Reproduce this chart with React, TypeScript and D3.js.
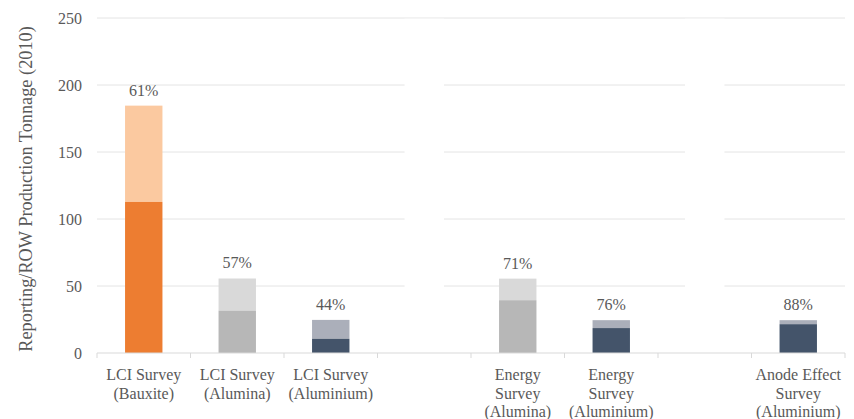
import React from 'react';
import * as d3 from 'd3';

// categories: blank slots are separators between survey groups
const categories = ['c1', 'c2', 'c3', 'gap1', 'c4', 'c5', 'gap2', 'c6'];
const catLabels = [
  ['LCI Survey', '(Bauxite)'],
  ['LCI Survey', '(Alumina)'],
  ['LCI Survey', '(Aluminium)'],
  [],
  ['Energy', 'Survey', '(Alumina)'],
  ['Energy', 'Survey', '(Aluminium)'],
  [],
  ['Anode Effect', 'Survey', '(Aluminium)'],
];
const totalRow = [184.6, 55.6, 24.7, 0, 55.5, 24.5, 0, 24.5];
const reporting = [112.7, 31.6, 10.6, 0, 39.4, 18.6, 0, 21.5];
const pctLabels = ['61%', '57%', '44%', '', '71%', '76%', '', '88%'];
const yTicks = [0, 50, 100, 150, 200, 250];

const darkCol = ['#ED7D31', '#B7B7B7', '#44546A', '', '#B7B7B7', '#44546A', '', '#44546A'];
const lightCol = ['#FBC9A0', '#D9D9D9', '#ABAFBA', '', '#D9D9D9', '#ABAFBA', '', '#ABAFBA'];

const font = "'Liberation Serif', 'Times New Roman', Times, serif";
const txt = '#595959';
const T = { fontFamily: font, fontSize: '16px', fill: txt };

export default function App() {
  const width = 854, height = 419;
  const margin = { top: 18, right: 9, bottom: 66, left: 97 };
  const x = d3.scaleBand().domain(categories)
    .range([margin.left, width - margin.right])
    .paddingInner(0.6).paddingOuter(0.3);
  const y = d3.scaleLinear().domain([0, 250]).range([height - margin.bottom, margin.top]);
  const step = x.step();

  return (
    <svg width={width} height={height} style={{ position: 'absolute', left: 0, top: 0, fontFamily: font }}>
      {yTicks.map(t => (
        <g key={t}>
          {t > 0 && <line x1={margin.left} x2={width - margin.right} y1={y(t)} y2={y(t)} stroke="#e4e4e4" strokeWidth={1} />}
          <text x={82} y={y(t)} dy="0.35em" textAnchor="end" style={T}>{t}</text>
        </g>
      ))}
      {/* white bars in the blank slots hide the gridlines */}
      {categories.map(c => c.startsWith('gap') ? (
        <rect key={c} x={x(c)! - 1} y={y(249.5)} width={x.bandwidth() + 2} height={y(0) - y(249.5)} fill="#fff" />
      ) : null)}
      {categories.map((c, i) => c.startsWith('gap') ? null : (
        <g key={c}>
          <rect x={x(c)!} y={y(totalRow[i])} width={x.bandwidth()} height={y(reporting[i]) - y(totalRow[i])} fill={lightCol[i]} />
          <rect x={x(c)!} y={y(reporting[i])} width={x.bandwidth()} height={y(0) - y(reporting[i])} fill={darkCol[i]} />
          <text x={x(c)! + x.bandwidth() / 2} y={y(totalRow[i]) - 10} textAnchor="middle" style={T}>{pctLabels[i]}</text>
        </g>
      ))}
      <line x1={margin.left} x2={width - margin.right} y1={y(0)} y2={y(0)} stroke="#d9d9d9" strokeWidth={1.2} />
      {d3.range(categories.length + 1).map(k => (
        <line key={k} x1={margin.left + k * step} x2={margin.left + k * step} y1={y(0)} y2={y(0) + 5} stroke="#d9d9d9" strokeWidth={1} />
      ))}
      {categories.map((c, i) => (
        <text key={c} textAnchor="middle" style={T}>
          {catLabels[i].map((l, j) => (
            <tspan key={j} x={x(c)! + x.bandwidth() / 2} y={y(0) + 27 + j * 18.7}>{l}</tspan>
          ))}
        </text>
      ))}
      <text transform={`translate(32,189) rotate(-90)`} textAnchor="middle" style={{ ...T, fontSize: '18.3px' }}>
        Reporting/ROW Production Tonnage (2010)
      </text>
    </svg>
  );
}
